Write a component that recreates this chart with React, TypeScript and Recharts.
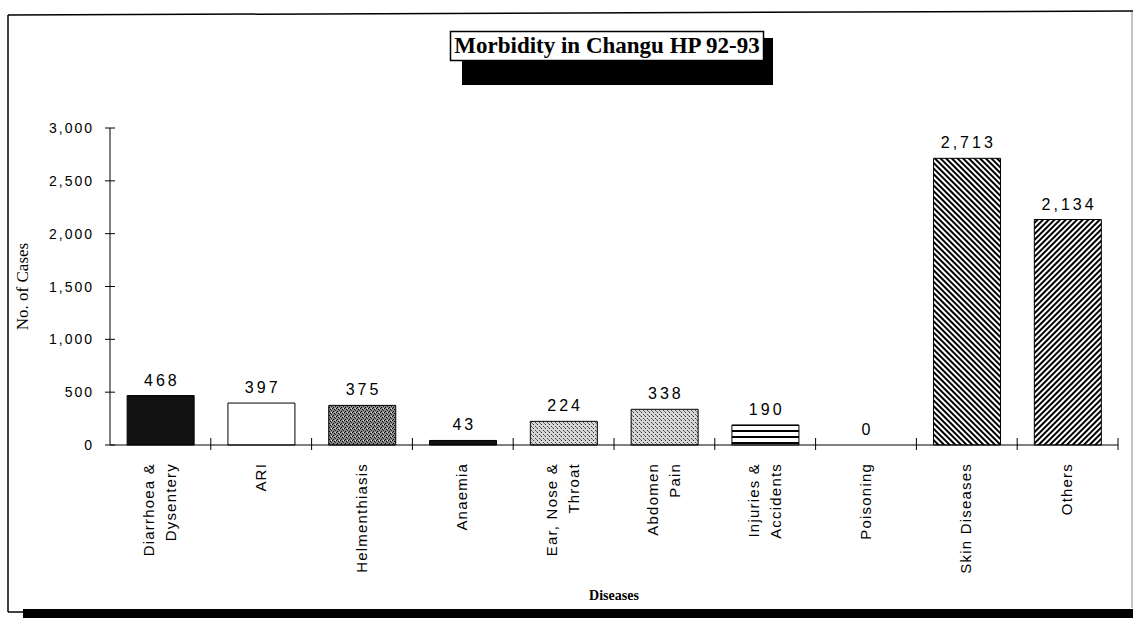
import React from 'react';
import { ComposedChart, Bar, Line, XAxis, YAxis, LabelList, Cell } from 'recharts';

// categories (line breaks as in the printed axis)
const diseases = [
  'Diarrhoea &\nDysentery',
  'ARI',
  'Helmenthiasis',
  'Anaemia',
  'Ear, Nose &\nThroat',
  'Abdomen\nPain',
  'Injuries &\nAccidents',
  'Poisoning',
  'Skin Diseases',
  'Others',
];
const cases = [468, 397, 375, 43, 224, 338, 190, 0, 2713, 2134];
const yTicks = [0, 500, 1000, 1500, 2000, 2500, 3000];

const barFills = [
  '#111',
  '#fff',
  'url(#stipDark)',
  '#111',
  'url(#stipLight)',
  'url(#stipLight)',
  'url(#hStripes)',
  '#fff',
  'url(#diagBack)',
  'url(#diagFwd)',
];

const data = diseases.map((name, i) => ({ name, cases: cases[i] }));

const SANS = '"Liberation Sans", Arial, sans-serif';
const SERIF = '"Liberation Serif", "Times New Roman", serif';

const XTick = (props: any) => {
  const { x, y, payload } = props;
  const half = typeof payload.offset === 'number' ? payload.offset : 50.4;
  const lines = String(payload.value).split('\n');
  const n = lines.length;
  return (
    <g>
      <line x1={x + half} x2={x + half} y1={y - 7} y2={y + 5} stroke="#000" />
      <text
        transform={`translate(${x - 1}, ${y + 18}) rotate(-90)`}
        textAnchor="end"
        fontFamily={SANS}
        fontSize={15}
        letterSpacing={1.2}
        fill="#000"
      >
        {lines.map((l, i) => (
          <tspan key={i} x={0} y={(i - (n - 1) / 2) * 22 + 5.5}>
            {l}
          </tspan>
        ))}
      </text>
    </g>
  );
};

const YTick = (props: any) => {
  const { x, y, payload } = props;
  return (
    <g>
      <line x1={x - 5} x2={x + 5} y1={y} y2={y} stroke="#000" />
      <text x={x - 16} y={y + 5} textAnchor="end" fontFamily={SANS} fontSize={14} letterSpacing={2} fill="#000">
        {Number(payload.value).toLocaleString('en-US')}
      </text>
    </g>
  );
};

const ValueLabel = (props: any) => {
  const { x, y, value } = props;
  return (
    <text x={x + 1.5} y={y - 10} textAnchor="middle" fontFamily={SANS} fontSize={16} letterSpacing={3} fill="#000">
      {Number(value).toLocaleString('en-US')}
    </text>
  );
};

export default function App() {
  return (
    <div style={{ position: 'absolute', left: 0, top: 0, width: 1133, height: 618, background: '#fff' }}>
      <ComposedChart
        width={1133}
        height={618}
        data={data}
        margin={{ left: 16, right: 15, top: 128, bottom: 10 }}
        barCategoryGap="17%"
      >
        <XAxis
          dataKey="name"
          interval={0}
          height={163}
          tickLine={false}
          tickSize={0}
          tickMargin={0}
          axisLine={{ stroke: '#000', strokeWidth: 1 }}
          tick={<XTick />}
          label={{
            value: 'Diseases',
            position: 'insideBottom',
            offset: 8,
            fill: '#000',
            fontSize: 14,
            fontFamily: SERIF,
            fontWeight: 'bold',
          }}
        />
        <YAxis
          width={94}
          domain={[0, 3000]}
          ticks={yTicks}
          interval={0}
          tickLine={false}
          tickSize={0}
          tickMargin={0}
          axisLine={{ stroke: '#000', strokeWidth: 1 }}
          tick={<YTick />}
          label={{
            content: (p: any) => {
              const vb = p.viewBox || {};
              const cx = vb.x + 6;
              const cy = vb.y + vb.height / 2;
              return (
                <text
                  transform={`translate(${cx}, ${cy}) rotate(-90)`}
                  textAnchor="middle"
                  y={6}
                  fontFamily={SERIF}
                  fontSize={17}
                  fill="#000"
                >
                  No. of Cases
                </text>
              );
            },
          }}
        />
        <Bar dataKey="cases" stroke="#000" strokeWidth={1} isAnimationActive={false}>
          {data.map((d, i) => (
            <Cell key={d.name} fill={barFills[i]} />
          ))}
        </Bar>
        {/* invisible series that only carries the value labels (so the 0 gets one too) */}
        <Line dataKey="cases" stroke="none" dot={false} activeDot={false} legendType="none" isAnimationActive={false}>
          <LabelList dataKey="cases" content={<ValueLabel />} />
        </Line>
      </ComposedChart>

      <svg
        width={1133}
        height={618}
        style={{ position: 'absolute', left: 0, top: 0, pointerEvents: 'none' }}
      >
        <defs>
          <pattern id="stipDark" width={4} height={4} patternUnits="userSpaceOnUse">
            <rect width={4} height={4} fill="#8c8c8c" />
            <rect x={0} y={0} width={1} height={1} fill="#000" />
            <rect x={2} y={1} width={1} height={1} fill="#000" />
            <rect x={1} y={3} width={1} height={1} fill="#000" />
            <rect x={3} y={2} width={1} height={1} fill="#222" />
            <rect x={3} y={0} width={1} height={1} fill="#ddd" />
          </pattern>
          <pattern id="stipLight" width={4} height={4} patternUnits="userSpaceOnUse">
            <rect width={4} height={4} fill="#d6d6d6" />
            <rect x={1} y={0} width={1} height={1} fill="#333" />
            <rect x={3} y={2} width={1} height={1} fill="#444" />
            <rect x={0} y={3} width={1} height={1} fill="#777" />
          </pattern>
          <pattern id="hStripes" width={8} height={6} patternUnits="userSpaceOnUse">
            <rect width={8} height={6} fill="#fff" />
            <rect x={0} y={4} width={8} height={2} fill="#000" />
          </pattern>
          <pattern id="diagBack" width={4} height={4} patternUnits="userSpaceOnUse" patternTransform="rotate(-45)">
            <rect width={4} height={4} fill="#fff" />
            <rect x={0} y={0} width={2} height={4} fill="#000" />
          </pattern>
          <pattern id="diagFwd" width={4} height={4} patternUnits="userSpaceOnUse" patternTransform="rotate(45)">
            <rect width={4} height={4} fill="#fff" />
            <rect x={0} y={0} width={2} height={4} fill="#000" />
          </pattern>
        </defs>

        {/* page frame */}
        <line x1={8} y1={15} x2={1133} y2={11} stroke="#000" strokeWidth={1.5} />
        <line x1={8} y1={15} x2={8} y2={612} stroke="#000" strokeWidth={1.5} />
        <line x1={1132} y1={12} x2={1132} y2={608} stroke="#888" strokeWidth={1} />
        <line x1={8} y1={612} x2={23} y2={612} stroke="#000" strokeWidth={1.5} />
        <rect x={23} y={609} width={1110} height={9} fill="#000" />

        {/* title with drop shadow */}
        <rect x={462} y={38} width={311} height={47} fill="#000" />
        <rect x={450.5} y={31.5} width={313} height={29} fill="#fff" stroke="#000" strokeWidth={1.5} />
        <text
          x={607}
          y={53}
          textAnchor="middle"
          fontFamily={SERIF}
          fontWeight="bold"
          fontSize={23}
          fill="#000"
        >
          Morbidity in Changu HP 92-93
        </text>
      </svg>
    </div>
  );
}
